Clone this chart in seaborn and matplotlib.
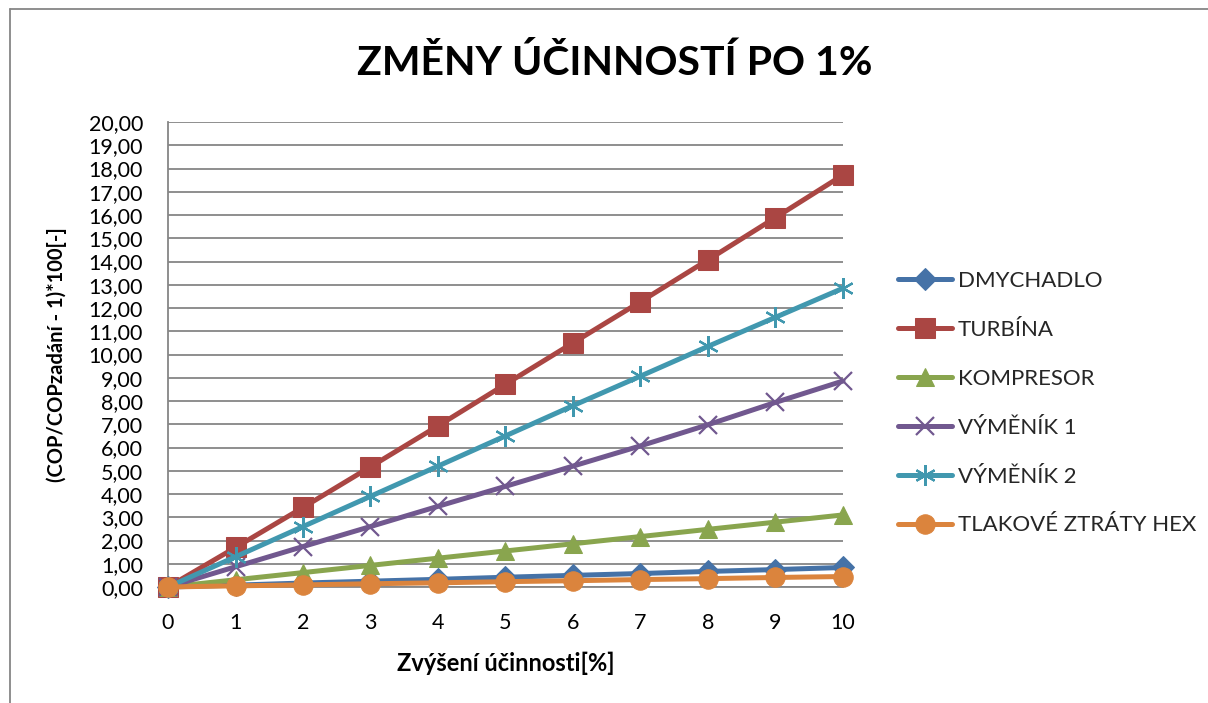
import matplotlib
matplotlib.use("Agg")
import matplotlib.pyplot as plt
from matplotlib.lines import Line2D
import seaborn as sns
import numpy as np
import pandas as pd
from matplotlib.ticker import FuncFormatter, MultipleLocator

sns.set_theme(style="white")
plt.rcParams['font.family'] = ['Lato', 'DejaVu Sans']

# ---- data ----
x_vals = [0, 1, 2, 3, 4, 5, 6, 7, 8, 9, 10]
dmychadlo = [0, 0.08, 0.17, 0.25, 0.33, 0.42, 0.50, 0.58, 0.67, 0.75, 0.84]
turbina = [0, 1.70, 3.42, 5.17, 6.93, 8.72, 10.50, 12.27, 14.07, 15.89, 17.72]
kompresor = [0, 0.31, 0.62, 0.93, 1.24, 1.55, 1.86, 2.17, 2.48, 2.79, 3.10]
vymenik1 = [0, 0.87, 1.74, 2.60, 3.47, 4.33, 5.20, 6.07, 6.98, 7.94, 8.86]
vymenik2 = [0, 1.30, 2.60, 3.90, 5.20, 6.50, 7.80, 9.07, 10.35, 11.60, 12.85]
tlak_hex = [0, 0.05, 0.09, 0.14, 0.18, 0.23, 0.27, 0.32, 0.36, 0.41, 0.45]

series_names = ["DMYCHADLO", "TURBÍNA", "KOMPRESOR", "VÝMĚNÍK 1", "VÝMĚNÍK 2", "TLAKOVÉ ZTRÁTY HEX"]
series_values = [dmychadlo, turbina, kompresor, vymenik1, vymenik2, tlak_hex]

title_text = "ZMĚNY ÚČINNOSTÍ PO 1%"
xlabel_text = "Zvýšení účinnosti[%]"
ylabel_text = "(COP/COPzadání - 1)*100[-]"

colors = ["#4572A7", "#AA4643", "#89A54E", "#71588F", "#4198AF", "#DB843D"]
markers = ["D", "s", "^", "x", (6, 2, 0), "o"]
msizes = [11, 14, 13, 13, 15, 14]

fig = plt.figure(figsize=(12.08, 7.03), dpi=100)
fig.patch.set_facecolor("white")
ax = fig.add_axes([168/1208, 1-587/703, 675/1208, 465/703])

for name, vals, c, m, ms in zip(series_names, series_values, colors, markers, msizes):
    df = pd.DataFrame({"x": x_vals, "y": vals})
    kw = dict(markeredgecolor=c, markerfacecolor=c)
    if m in ("x",) or isinstance(m, tuple):
        kw["markeredgewidth"] = 1.6
    sns.lineplot(data=df, x="x", y="y", ax=ax, color=c, marker=m, markersize=ms,
                 linewidth=3.6, label=name, clip_on=False, zorder=3, **kw)

ax.set_xlim(0, 10)
ax.set_ylim(0, 20)
ax.xaxis.set_major_locator(MultipleLocator(1))
ax.yaxis.set_major_locator(MultipleLocator(1))
ax.yaxis.set_major_formatter(FuncFormatter(lambda v, p: f"{v:.2f}".replace(".", ",")))
ax.grid(axis="y", color="#868686", linewidth=1.3)
ax.grid(axis="x", visible=False)
ax.set_axisbelow(True)
for s in ["top", "right"]:
    ax.spines[s].set_visible(False)
for s in ["left", "bottom"]:
    ax.spines[s].set_color("#868686")
    ax.spines[s].set_linewidth(1.3)
ax.tick_params(axis="y", length=0, pad=18, labelsize=15.5, labelcolor="black")
ax.tick_params(axis="x", length=0, pad=19, labelsize=15.5, labelcolor="black")

ax.set_xlabel(xlabel_text, fontsize=17, fontweight="bold", color="black")
ax.xaxis.set_label_coords(0.5, -(663-587)/465)
ax.xaxis.label.set_va("center")
ax.set_ylabel(ylabel_text, fontsize=14.5, fontweight="bold", color="black")
ax.yaxis.set_label_coords(-(168-57)/675, 0.5)
ax.yaxis.label.set_va("center")

fig.text(615/1208, 1-63/703, title_text, ha="center", va="center",
         fontsize=29.5, fontweight="bold", color="black")

if ax.legend_:
    ax.legend_.remove()
handles, labels = ax.get_legend_handles_labels()
fig.legend(handles, labels, loc="upper left", bbox_to_anchor=(898/1208, 1-271/703),
           bbox_transform=fig.transFigure, frameon=False, fontsize=16,
           handlelength=2.45, handletextpad=0.25, labelspacing=1.3, borderpad=0,
           borderaxespad=0)

# outer chart frame (only top and left edges are visible in the reference)
fx, fy = 9.5/1208, 1 - 8.5/703
fig.add_artist(Line2D([fx, 1.0], [fy, fy], transform=fig.transFigure,
                      color="#868686", linewidth=1.3))
fig.add_artist(Line2D([fx, fx], [0.0, fy], transform=fig.transFigure,
                      color="#868686", linewidth=1.3))

fig.savefig("out.png", dpi=100)
